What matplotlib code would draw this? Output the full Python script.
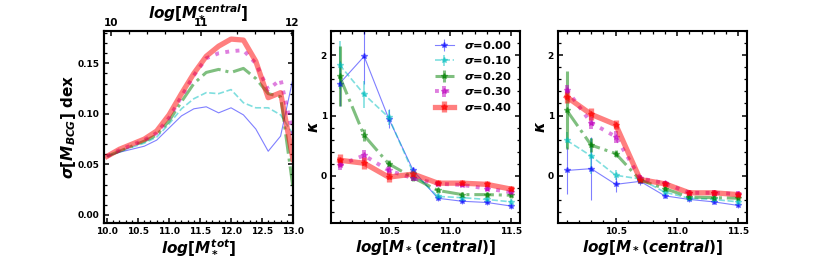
import numpy as np
import matplotlib as mpl
mpl.use("Agg")
import matplotlib.pyplot as plt
from matplotlib.ticker import AutoMinorLocator, MultipleLocator

mpl.rcParams["font.weight"] = "bold"
mpl.rcParams["axes.labelweight"] = "bold"
mpl.rcParams["mathtext.fontset"] = "custom"
mpl.rcParams["mathtext.it"] = "DejaVu Sans:bold:italic"
mpl.rcParams["mathtext.rm"] = "DejaVu Sans:bold"
mpl.rcParams["mathtext.bf"] = "DejaVu Sans:bold"

# ---- data ----
sigmas = ["0.00", "0.10", "0.20", "0.30", "0.40"]

# left panel: scatter of BCG mass vs total stellar mass
m_tot = [10.0, 10.2, 10.4, 10.6, 10.8, 11.0, 11.2, 11.4, 11.6, 11.8, 12.0, 12.2, 12.4, 12.6, 12.8, 13.0]
scat_000 = [0.058, 0.062, 0.065, 0.068, 0.074, 0.086, 0.098, 0.105, 0.107, 0.101, 0.106, 0.099, 0.085, 0.063, 0.078, 0.135]
scat_010 = [0.058, 0.063, 0.067, 0.071, 0.077, 0.090, 0.105, 0.115, 0.121, 0.120, 0.124, 0.111, 0.106, 0.106, 0.099, 0.080]
scat_020 = [0.058, 0.063, 0.068, 0.073, 0.079, 0.093, 0.112, 0.130, 0.141, 0.144, 0.141, 0.145, 0.135, 0.120, 0.117, 0.027]
scat_030 = [0.058, 0.064, 0.069, 0.074, 0.081, 0.096, 0.117, 0.138, 0.155, 0.160, 0.162, 0.163, 0.150, 0.124, 0.134, 0.080]
scat_040 = [0.058, 0.065, 0.070, 0.075, 0.083, 0.099, 0.120, 0.140, 0.157, 0.167, 0.174, 0.173, 0.152, 0.116, 0.121, 0.055]
scatter = [scat_000, scat_010, scat_020, scat_030, scat_040]

# middle / right panels: kappa vs central mass
m_cen = [10.1, 10.3, 10.5, 10.7, 10.9, 11.1, 11.3, 11.5]

kap_mid = [
    [1.53, 1.98, 0.95, 0.09, -0.37, -0.42, -0.44, -0.50],
    [1.84, 1.35, 0.97, 0.05, -0.34, -0.36, -0.39, -0.43],
    [1.65, 0.67, 0.20, -0.03, -0.24, -0.31, -0.31, -0.32],
    [0.18, 0.34, 0.09, -0.04, -0.13, -0.15, -0.21, -0.27],
    [0.26, 0.21, -0.02, 0.03, -0.12, -0.12, -0.14, -0.22],
]
err_mid = [
    [0.38, 0.45, 0.15, 0.06, 0.04, 0.04, 0.04, 0.04],
    [0.40, 0.22, 0.12, 0.05, 0.04, 0.04, 0.04, 0.04],
    [0.50, 0.10, 0.06, 0.05, 0.04, 0.04, 0.04, 0.04],
    [0.08, 0.09, 0.08, 0.05, 0.04, 0.04, 0.04, 0.04],
    [0.10, 0.10, 0.08, 0.06, 0.05, 0.05, 0.05, 0.05],
]

kap_right = [
    [0.09, 0.12, -0.14, -0.09, -0.33, -0.39, -0.43, -0.49],
    [0.59, 0.33, 0.01, -0.05, -0.27, -0.37, -0.39, -0.43],
    [1.09, 0.51, 0.37, -0.07, -0.21, -0.35, -0.36, -0.37],
    [1.43, 0.88, 0.65, -0.04, -0.12, -0.28, -0.28, -0.30],
    [1.31, 1.02, 0.85, -0.06, -0.13, -0.28, -0.28, -0.31],
]
err_right = [
    [0.39, 0.52, 0.13, 0.06, 0.04, 0.04, 0.04, 0.04],
    [0.13, 0.30, 0.08, 0.05, 0.04, 0.04, 0.04, 0.04],
    [0.65, 0.12, 0.06, 0.05, 0.04, 0.04, 0.04, 0.04],
    [0.08, 0.10, 0.10, 0.05, 0.04, 0.05, 0.05, 0.05],
    [0.10, 0.10, 0.08, 0.06, 0.05, 0.05, 0.05, 0.05],
]

colors = ["b", "c", "g", "m", "r"]
styles = ["-", "--", "-.", ":", "-"]
widths = [0.8, 1.2, 2.2, 2.8, 3.8]


def style_axis(ax):
    ax.tick_params(axis="both", which="both", direction="in", top=True, right=True, labelsize=6.5, pad=3)
    ax.tick_params(which="major", length=3.5, width=1.1)
    ax.tick_params(which="minor", length=2, width=0.9)
    ax.xaxis.set_minor_locator(AutoMinorLocator())
    ax.yaxis.set_minor_locator(AutoMinorLocator())
    for sp in ax.spines.values():
        sp.set_linewidth(1.5)


fig = plt.figure(figsize=(8.3, 2.56), dpi=100)
ax1 = fig.add_axes([0.1253, 0.1289, 0.2277, 0.75])
ax2 = fig.add_axes([0.3988, 0.1289, 0.2277, 0.75])
ax3 = fig.add_axes([0.6723, 0.1289, 0.2277, 0.75])

# left panel
for i in range(len(sigmas)):
    ax1.plot(m_tot, scatter[i], color=colors[i], ls=styles[i], lw=widths[i], alpha=0.5)
ax1.set_xlim(9.95, 13.0)
ax1.set_ylim(-0.008, 0.182)
ax1.xaxis.set_major_locator(MultipleLocator(0.5))
ax1.yaxis.set_major_locator(MultipleLocator(0.05))
ax1.yaxis.set_major_formatter(mpl.ticker.FormatStrFormatter("%.2f"))
style_axis(ax1)
ax1.tick_params(top=False, which="both")
ax1.set_xlabel(r"$log[M_*^{tot}]$", fontsize=11, labelpad=1)
ax1.set_ylabel(r"$\sigma[M_{BCG}]$ dex", fontsize=11, labelpad=0)

ax1t = ax1.twiny()
ax1t.set_xlim(9.926, 12.015)
ax1t.xaxis.set_major_locator(MultipleLocator(1))
ax1t.xaxis.set_minor_locator(AutoMinorLocator())
ax1t.tick_params(axis="x", which="both", direction="in", labelsize=7.5, pad=2)
ax1t.tick_params(which="major", length=3.5, width=1.1)
ax1t.tick_params(which="minor", length=2, width=0.9)
ax1t.set_xlabel(r"$log[M_*^{central}]$", fontsize=11, labelpad=0)
for sp in ax1t.spines.values():
    sp.set_linewidth(1.5)

# middle and right panels
for ax, kap, err in [(ax2, kap_mid, err_mid), (ax3, kap_right, err_right)]:
    for i in range(len(sigmas)):
        ax.errorbar(m_cen, kap[i], yerr=err[i], color=colors[i], ls=styles[i], lw=widths[i],
                    elinewidth=widths[i], marker="*", ms=4, alpha=0.5,
                    label=r"$\sigma$=" + sigmas[i])
    ax.set_xlim(10.03, 11.57)
    ax.set_ylim(-0.78, 2.4)
    ax.xaxis.set_major_locator(MultipleLocator(0.5))
    ax.yaxis.set_major_locator(MultipleLocator(1))
    style_axis(ax)
    ax.set_xlabel(r"$log[M_*(central)]$", fontsize=11, labelpad=1)
    ax.set_ylabel(r"$\kappa$", fontsize=11, labelpad=0)

ax2.legend(loc="upper right", frameon=False, fontsize=8.2, handlelength=1.7,
           labelspacing=0.3, borderaxespad=0.3, handletextpad=0.9)

plt.savefig("out.png", dpi=100)
